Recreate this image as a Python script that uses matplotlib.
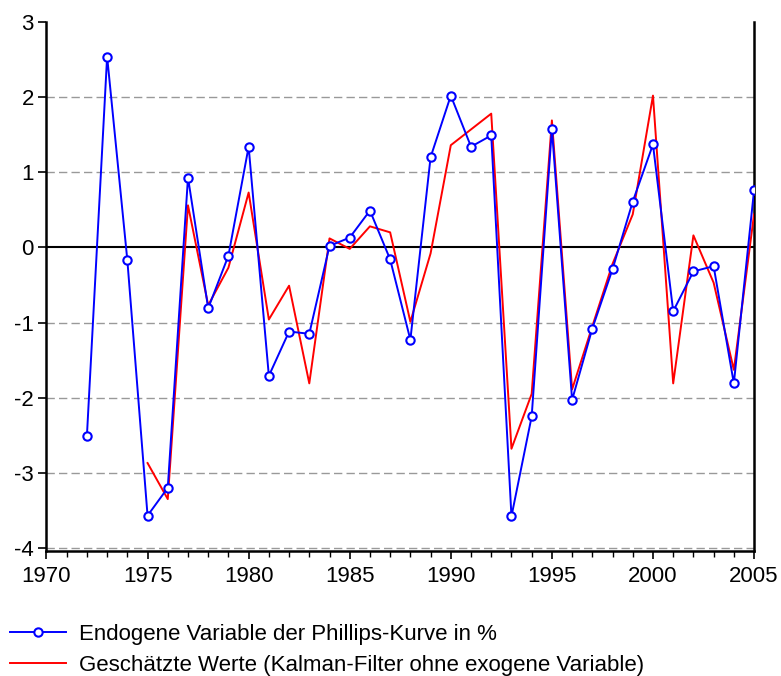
import matplotlib
matplotlib.use("Agg")
import matplotlib.pyplot as plt
from matplotlib.ticker import MultipleLocator

plt.rcParams['font.family'] = ['Liberation Sans', 'DejaVu Sans']
plt.rcParams['axes.unicode_minus'] = False

years_endo = list(range(1972, 2006))
endo = [-2.51, 2.54, -0.17, -3.57, -3.20, 0.93, -0.81, -0.11, 1.34, -1.71,
        -1.12, -1.15, 0.02, 0.13, 0.49, -0.16, -1.23, 1.20, 2.02, 1.34,
        1.49, -3.58, -2.25, 1.58, -2.03, -1.08, -0.29, 0.61, 1.37, -0.85,
        -0.32, -0.25, -1.81, 0.76]

years_est = list(range(1975, 2006))
est = [-2.87, -3.35, 0.56, -0.77, -0.27, 0.73, -0.96, -0.51, -1.81, 0.12,
       -0.02, 0.28, 0.20, -0.99, -0.08, 1.36, 1.57, 1.78, -2.68, -1.95,
       1.69, -1.89, -1.05, -0.22, 0.44, 2.02, -1.81, 0.16, -0.47, -1.63, 0.44]

label_endo = "Endogene Variable der Phillips-Kurve in %"
label_est = "Geschätzte Werte (Kalman-Filter ohne exogene Variable)"

fig = plt.figure(figsize=(7.81, 6.76), dpi=100)
ax = fig.add_axes([0.0595, 0.185, 0.906, 0.7825])

for v in [-4, -3, -2, -1, 1, 2]:
    ax.axhline(v, color='#999999', lw=1.0, ls=(0, (6, 3)), zorder=1)
ax.axhline(0, color='black', lw=1.5, zorder=2)

l1, = ax.plot(years_endo, endo, color='#0000ff', lw=1.4, marker='o', ms=6,
              mfc='white', mec='#0000ff', mew=1.5, zorder=4, label=label_endo)
l2, = ax.plot(years_est, est, color='#ff0000', lw=1.4, zorder=3, label=label_est)

ax.set_xlim(1970, 2005)
ax.set_ylim(-4.04, 3)
ax.xaxis.set_major_locator(MultipleLocator(5))
ax.xaxis.set_minor_locator(MultipleLocator(1))
ax.yaxis.set_major_locator(MultipleLocator(1))
ax.spines['top'].set_visible(False)
for s in ['left', 'right', 'bottom']:
    ax.spines[s].set_linewidth(1.8)
ax.tick_params(axis='both', which='major', direction='out', length=6, width=1.2,
               labelsize=16, pad=3)
ax.tick_params(axis='x', which='major', pad=5)
ax.tick_params(axis='x', which='minor', direction='out', length=4, width=1.0)
ax.tick_params(axis='y', which='minor', left=False)

fig.legend(handles=[l1, l2], loc='upper left', bbox_to_anchor=(0.013, 0.077),
           frameon=False, fontsize=16, handlelength=2.5, handletextpad=0.6,
           labelspacing=0.45, borderaxespad=0.0, borderpad=0.0)

fig.savefig('out.png', dpi=100)
